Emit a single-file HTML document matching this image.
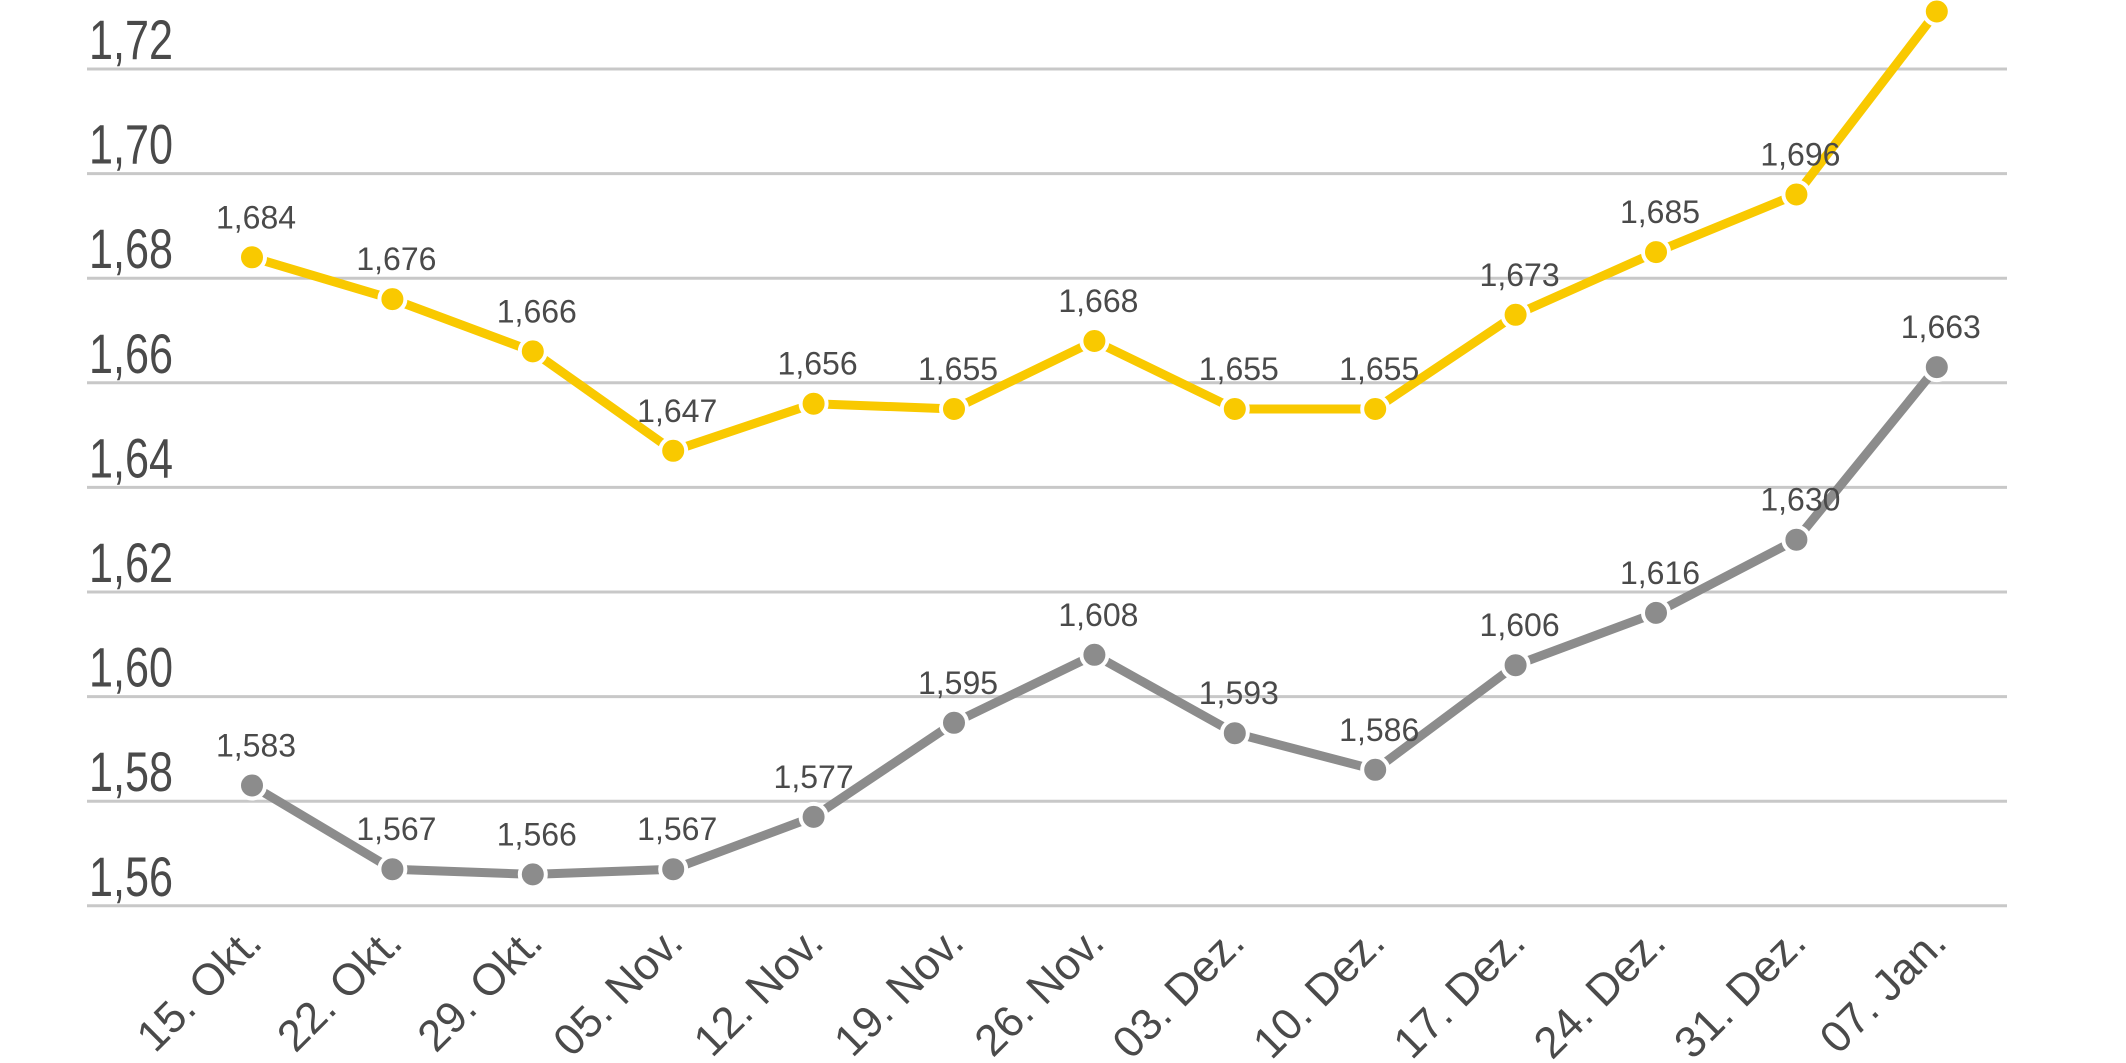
<!DOCTYPE html>
<html><head><meta charset="utf-8"><style>html,body{margin:0;padding:0;background:#fff}svg{display:block}</style></head>
<body>
<svg width="2126" height="1063" viewBox="0 0 2126 1063" xmlns="http://www.w3.org/2000/svg" font-family="Liberation Sans, sans-serif">
<g stroke="#c8c8c8" stroke-width="3">
<line x1="87" x2="2007" y1="69" y2="69"/><line x1="87" x2="2007" y1="173.6" y2="173.6"/><line x1="87" x2="2007" y1="278.2" y2="278.2"/><line x1="87" x2="2007" y1="382.8" y2="382.8"/><line x1="87" x2="2007" y1="487.4" y2="487.4"/><line x1="87" x2="2007" y1="592" y2="592"/><line x1="87" x2="2007" y1="696.6" y2="696.6"/><line x1="87" x2="2007" y1="801.2" y2="801.2"/><line x1="87" x2="2007" y1="905.8" y2="905.8"/>
</g>
<g fill="#4a4a4a" font-size="56">
<text x="89" y="59" textLength="84" lengthAdjust="spacingAndGlyphs">1,72</text>
<text x="89" y="163.6" textLength="84" lengthAdjust="spacingAndGlyphs">1,70</text>
<text x="89" y="268.2" textLength="84" lengthAdjust="spacingAndGlyphs">1,68</text>
<text x="89" y="372.8" textLength="84" lengthAdjust="spacingAndGlyphs">1,66</text>
<text x="89" y="477.4" textLength="84" lengthAdjust="spacingAndGlyphs">1,64</text>
<text x="89" y="582" textLength="84" lengthAdjust="spacingAndGlyphs">1,62</text>
<text x="89" y="686.6" textLength="84" lengthAdjust="spacingAndGlyphs">1,60</text>
<text x="89" y="791.2" textLength="84" lengthAdjust="spacingAndGlyphs">1,58</text>
<text x="89" y="895.8" textLength="84" lengthAdjust="spacingAndGlyphs">1,56</text>
</g>
<polyline fill="none" stroke="#F9C900" stroke-width="9" stroke-linejoin="round" points="252,257.3 392.4,299.1 532.8,351.4 673.2,450.8 813.6,403.7 954,409 1094.4,341 1234.8,409 1375.2,409 1515.6,314.8 1656,252.1 1796.4,194.5 1936.8,11.5"/>
<polyline fill="none" stroke="#8c8c8c" stroke-width="9" stroke-linejoin="round" points="252,785.5 392.4,869.2 532.8,874.4 673.2,869.2 813.6,816.9 954,722.8 1094.4,654.8 1234.8,733.2 1375.2,769.8 1515.6,665.2 1656,612.9 1796.4,539.7 1936.8,367.1"/>
<g fill="#F9C900" stroke="#fff" stroke-width="4">
<circle cx="252" cy="257.3" r="13"/><circle cx="392.4" cy="299.1" r="13"/><circle cx="532.8" cy="351.4" r="13"/><circle cx="673.2" cy="450.8" r="13"/><circle cx="813.6" cy="403.7" r="13"/><circle cx="954" cy="409" r="13"/><circle cx="1094.4" cy="341" r="13"/><circle cx="1234.8" cy="409" r="13"/><circle cx="1375.2" cy="409" r="13"/><circle cx="1515.6" cy="314.8" r="13"/><circle cx="1656" cy="252.1" r="13"/><circle cx="1796.4" cy="194.5" r="13"/><circle cx="1936.8" cy="11.5" r="13"/>
</g>
<g fill="#8c8c8c" stroke="#fff" stroke-width="4">
<circle cx="252" cy="785.5" r="13"/><circle cx="392.4" cy="869.2" r="13"/><circle cx="532.8" cy="874.4" r="13"/><circle cx="673.2" cy="869.2" r="13"/><circle cx="813.6" cy="816.9" r="13"/><circle cx="954" cy="722.8" r="13"/><circle cx="1094.4" cy="654.8" r="13"/><circle cx="1234.8" cy="733.2" r="13"/><circle cx="1375.2" cy="769.8" r="13"/><circle cx="1515.6" cy="665.2" r="13"/><circle cx="1656" cy="612.9" r="13"/><circle cx="1796.4" cy="539.7" r="13"/><circle cx="1936.8" cy="367.1" r="13"/>
</g>
<g fill="#4a4a4a" font-size="32" text-anchor="middle">
<text x="256" y="228.3">1,684</text><text x="396.4" y="270.1">1,676</text><text x="536.8" y="322.4">1,666</text><text x="677.2" y="421.8">1,647</text><text x="817.6" y="374.7">1,656</text><text x="958" y="380">1,655</text><text x="1098.4" y="312">1,668</text><text x="1238.8" y="380">1,655</text><text x="1379.2" y="380">1,655</text><text x="1519.6" y="285.8">1,673</text><text x="1660" y="223.1">1,685</text><text x="1800.4" y="165.5">1,696</text>
<text x="256" y="756.5">1,583</text><text x="396.4" y="840.2">1,567</text><text x="536.8" y="845.4">1,566</text><text x="677.2" y="840.2">1,567</text><text x="813.6" y="787.9">1,577</text><text x="958" y="693.8">1,595</text><text x="1098.4" y="625.8">1,608</text><text x="1238.8" y="704.2">1,593</text><text x="1379.2" y="740.8">1,586</text><text x="1519.6" y="636.2">1,606</text><text x="1660" y="583.9">1,616</text><text x="1800.4" y="510.7">1,630</text><text x="1940.8" y="338.1">1,663</text>
</g>
<g fill="#4a4a4a" font-size="44" text-anchor="end">
<text transform="translate(264,945) rotate(-45)">15. Okt.</text>
<text transform="translate(404.4,945) rotate(-45)">22. Okt.</text>
<text transform="translate(544.8,945) rotate(-45)">29. Okt.</text>
<text transform="translate(685.2,945) rotate(-45)">05. Nov.</text>
<text transform="translate(825.6,945) rotate(-45)">12. Nov.</text>
<text transform="translate(966,945) rotate(-45)">19. Nov.</text>
<text transform="translate(1106.4,945) rotate(-45)">26. Nov.</text>
<text transform="translate(1246.8,945) rotate(-45)">03. Dez.</text>
<text transform="translate(1387.2,945) rotate(-45)">10. Dez.</text>
<text transform="translate(1527.6,945) rotate(-45)">17. Dez.</text>
<text transform="translate(1668,945) rotate(-45)">24. Dez.</text>
<text transform="translate(1808.4,945) rotate(-45)">31. Dez.</text>
<text transform="translate(1948.8,945) rotate(-45)">07. Jan.</text>
</g>
</svg>
</body></html>
